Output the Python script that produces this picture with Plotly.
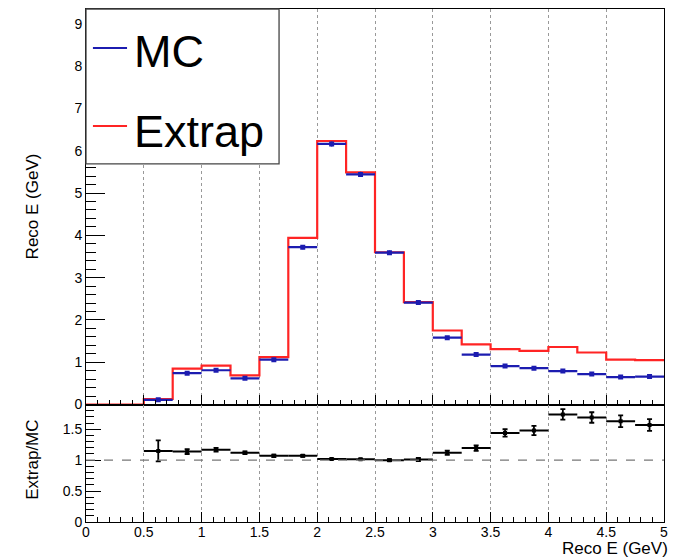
import numpy as np
import plotly.graph_objects as go

# ---- data ----
bin_edges = [round(0.25 * i, 2) for i in range(21)]  # 0 .. 5 GeV
mc_values = [0.0, 0.0, 0.11, 0.74, 0.81, 0.62, 1.06, 3.72, 6.16, 5.44,
             3.59, 2.41, 1.58, 1.18, 0.91, 0.86, 0.79, 0.72, 0.65, 0.66]
mc_errors = [0.0, 0.0, 0.02, 0.04, 0.04, 0.04, 0.04, 0.05, 0.06, 0.06,
             0.05, 0.05, 0.04, 0.04, 0.03, 0.03, 0.03, 0.03, 0.03, 0.03]
extrap_values = [0.0, 0.0, 0.13, 0.85, 0.92, 0.69, 1.12, 3.94, 6.23, 5.49,
                 3.60, 2.42, 1.75, 1.42, 1.31, 1.27, 1.36, 1.23, 1.06, 1.05]
ratio_values = [None, None, 1.15, 1.14, 1.17, 1.12, 1.07, 1.07, 1.02, 1.016,
                1.00, 1.01, 1.12, 1.195, 1.44, 1.48, 1.74, 1.69, 1.63, 1.57]
ratio_errors = [None, None, 0.17, 0.04, 0.03, 0.02, 0.02, 0.015, 0.01, 0.01,
                0.015, 0.025, 0.035, 0.045, 0.06, 0.075, 0.085, 0.085, 0.095, 0.095]
x_ticks = [0, 0.5, 1, 1.5, 2, 2.5, 3, 3.5, 4, 4.5, 5]
legend_labels = ["MC", "Extrap"]
REF_LEVEL = 1.0

edges = np.array(bin_edges)
centers = 0.5 * (edges[:-1] + edges[1:])
half_w = 0.5 * (edges[1:] - edges[:-1])

BLUE = "#1c1cb0"
RED = "#ff2424"
FONT = "Liberation Sans, Arial, Helvetica, sans-serif"

fig = go.Figure()

# Extrap histogram outline (step)
fig.add_trace(go.Scatter(
    x=list(edges), y=extrap_values + [extrap_values[-1]],
    mode="lines", line=dict(color=RED, width=2.2, shape="hv"),
    xaxis="x", yaxis="y", showlegend=False, hoverinfo="skip", cliponaxis=False))

# MC points with bin-width bars
mc_mask = [i for i in range(len(mc_values)) if mc_values[i] > 0]
fig.add_trace(go.Scatter(
    x=[centers[i] for i in mc_mask], y=[mc_values[i] for i in mc_mask],
    mode="markers",
    marker=dict(symbol="square", size=5, color=BLUE),
    error_x=dict(type="data", array=[half_w[i] for i in mc_mask], width=0,
                 thickness=2.2, color=BLUE),
    error_y=dict(type="data", array=[mc_errors[i] for i in mc_mask], width=0,
                 thickness=1.5, color=BLUE),
    xaxis="x", yaxis="y", showlegend=False))

# Ratio
r_mask = [i for i in range(len(ratio_values)) if ratio_values[i] is not None]
fig.add_trace(go.Scatter(
    x=[centers[i] for i in r_mask], y=[ratio_values[i] for i in r_mask],
    mode="markers",
    marker=dict(symbol="square", size=4, color="black"),
    error_x=dict(type="data", array=[half_w[i] for i in r_mask], width=0,
                 thickness=2, color="black"),
    error_y=dict(type="data", array=[ratio_errors[i] for i in r_mask], width=2.5,
                 thickness=1.8, color="black"),
    xaxis="x2", yaxis="y2", showlegend=False))

TOP_DOMAIN = [0.229, 1.0]
BOT_DOMAIN = [0.0, 0.229]
tickfont = dict(family=FONT, size=14, color="black")

common_x = dict(range=[0, 5], tickvals=x_ticks, ticks="inside",
                showline=True, linecolor="black", linewidth=1, mirror=True,
                showgrid=True, gridcolor="#999999", griddash="dot", gridwidth=1,
                zeroline=False, tickcolor="black", tickfont=tickfont,
                minor=dict(dtick=0.1, ticks="inside", ticklen=5,
                           tickcolor="black", showgrid=False))

fig.update_layout(
    width=678, height=557,
    margin=dict(l=86, r=14, t=9, b=35),
    paper_bgcolor="white", plot_bgcolor="white",
    font=dict(family=FONT, color="black"),
    xaxis=dict(common_x, anchor="y", domain=[0, 1], showticklabels=False,
               ticklen=10),
    yaxis=dict(domain=TOP_DOMAIN, range=[0, 9.35], dtick=1, ticks="inside",
               ticklen=19, tickcolor="black", showline=True, linecolor="black",
               linewidth=1, mirror=True, showgrid=False, zeroline=False,
               tickfont=tickfont, anchor="x",
               minor=dict(dtick=0.2, ticks="inside", ticklen=10,
                          tickcolor="black", showgrid=False)),
    xaxis2=dict(common_x, anchor="y2", domain=[0, 1], ticklen=10,
                ticklabelstandoff=-3),
    yaxis2=dict(domain=BOT_DOMAIN, range=[0, 1.9], tickvals=[0, 0.5, 1, 1.5],
                ticks="inside", ticklen=15, tickcolor="black", showline=True,
                linecolor="black", linewidth=1, mirror=True, showgrid=False,
                zeroline=False, tickfont=tickfont, anchor="x2",
                minor=dict(dtick=0.1, ticks="inside", ticklen=8,
                           tickcolor="black", showgrid=False)),
)

# reference dashed line at ratio = 1
fig.add_shape(type="line", xref="x2 domain", yref="y2", x0=0, x1=1,
              y0=REF_LEVEL, y1=REF_LEVEL,
              line=dict(color="#777777", width=1.2, dash="dash"))

# legend box (drawn manually to match ROOT style)
fig.add_shape(type="rect", xref="paper", yref="paper",
              x0=0, x1=0.334, y0=0.698, y1=1.0, layer="above",
              fillcolor="white", line=dict(color="#444444", width=1.3))
leg_colors = [BLUE, RED]
leg_y = [0.924, 0.772]
leg_text_y = [0.917, 0.762]
for lab, col, yl, yt in zip(legend_labels, leg_colors, leg_y, leg_text_y):
    fig.add_shape(type="line", xref="paper", yref="paper", layer="above",
                  x0=0.012, x1=0.071, y0=yl, y1=yl,
                  line=dict(color=col, width=2))
    fig.add_annotation(xref="paper", yref="paper", x=0.080, y=yt,
                       text=lab, showarrow=False, xanchor="left",
                       yanchor="middle",
                       font=dict(family=FONT, size=45, color="black"))

# axis titles
fig.add_annotation(xref="paper", yref="paper", x=-0.091, y=0.616,
                   text="Reco E (GeV)", textangle=-90, showarrow=False,
                   xanchor="center", yanchor="middle",
                   font=dict(family=FONT, size=17, color="black"))
fig.add_annotation(xref="paper", yref="paper", x=-0.092, y=0.121,
                   text="Extrap/MC", textangle=-90, showarrow=False,
                   xanchor="center", yanchor="middle",
                   font=dict(family=FONT, size=17, color="black"))
fig.add_annotation(xref="paper", yref="paper", x=1.0104, y=-0.052,
                   text="Reco E (GeV)", showarrow=False,
                   xanchor="right", yanchor="middle",
                   font=dict(family=FONT, size=17, color="black"))

fig.write_html("out.html")
